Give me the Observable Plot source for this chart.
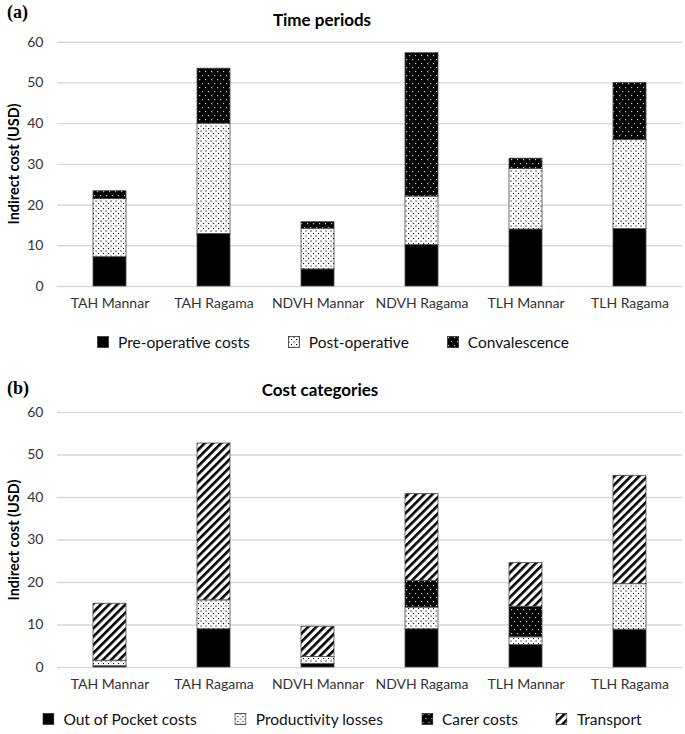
<!DOCTYPE html>
<html>
<head>
<meta charset="utf-8">
<script src="https://cdn.jsdelivr.net/npm/d3@7"></script>
<script src="https://cdn.jsdelivr.net/npm/@observablehq/plot@0.6"></script>
<style>
  html, body { margin: 0; padding: 0; background: #fff; }
  #root { position: relative; width: 685px; height: 734px; font-family: Lato, "Open Sans", sans-serif; color: #000; overflow: hidden; }
  .abs { position: absolute; }
  .panel-label { font-family: "Liberation Serif", "Times New Roman", serif; font-weight: bold; font-size: 18px; }
  .title { font-weight: bold; font-size: 17px; transform: translateX(-50%); white-space: nowrap; }
  .ylab { font-weight: bold; font-size: 14.5px; white-space: nowrap; transform: translate(-50%, -50%) rotate(-90deg); }
  .legend { display: flex; align-items: center; white-space: nowrap; font-size: 15.5px; color: #111; transform: translateX(-50%); }
  .legend .item { display: flex; align-items: center; }
  .legend svg { margin-right: 9px; }
</style>
</head>
<body>
<svg width="0" height="0" style="position:absolute">
  <defs>
    <pattern id="dotsW" width="5" height="5" patternUnits="userSpaceOnUse">
      <rect width="5" height="5" fill="#fff"/>
      <rect x="0.5" y="0.5" width="1.1" height="1.1" fill="#000"/>
      <rect x="3" y="3" width="1.1" height="1.1" fill="#000"/>
    </pattern>
    <pattern id="dotsB" width="6" height="8" patternUnits="userSpaceOnUse">
      <rect width="6" height="8" fill="#000"/>
      <rect x="1" y="1" width="1.2" height="1.2" fill="#c8c8c8"/>
      <rect x="4" y="5" width="1.2" height="1.2" fill="#c8c8c8"/>
    </pattern>
    <pattern id="diag" width="5.8" height="5.8" patternUnits="userSpaceOnUse" patternTransform="rotate(45)">
      <rect width="5.8" height="5.8" fill="#fff"/>
      <rect width="2.6" height="5.8" fill="#000"/>
    </pattern>
  </defs>
</svg>
<div id="root"></div>
<script>
// ---------- data ----------
const categories = ["TAH Mannar", "TAH Ragama", "NDVH Mannar", "NDVH Ragama", "TLH Mannar", "TLH Ragama"];
const yTicks = [0, 10, 20, 30, 40, 50, 60];

// (a) Time periods
const seriesA = ["Pre-operative costs", "Post-operative", "Convalescence"];
const preOperative  = [7.2, 12.9, 4.2, 10.2, 14.0, 14.1];
const postOperative = [14.3, 27.1, 10.0, 11.9, 14.9, 21.9];
const convalescence = [1.9, 13.5, 1.6, 35.2, 2.5, 14.0];

// (b) Cost categories
const seriesB = ["Out of Pocket costs", "Productivity losses", "Carer costs", "Transport"];
const outOfPocket  = [0.3, 9.0, 0.8, 9.0, 5.3, 8.9];
const productivity = [1.3, 6.8, 1.7, 5.1, 1.8, 10.7];
const carerCosts   = [0, 0, 0, 6.3, 7.2, 0];
const transport    = [13.4, 36.9, 7.1, 20.4, 10.3, 25.5];

const fillsA = ["#000", "url(#dotsW)", "url(#dotsB)"];
const fillsB = ["#000", "url(#dotsW)", "url(#dotsB)", "url(#diag)"];

function rows(seriesNames, arrays) {
  const out = [];
  seriesNames.forEach((s, i) => arrays[i].forEach((v, j) => { if (v > 0) out.push({cat: categories[j], series: s, value: v}); }));
  return out;
}

function chart(data, names, fills, height, mt, mb) {
  return Plot.plot({
    width: 685, height, marginTop: mt, marginBottom: mb, marginLeft: 57, marginRight: 3,
    style: {fontFamily: "Lato, 'Open Sans', sans-serif", fontSize: "14px", color: "#333", background: "transparent"},
    x: {domain: categories, paddingInner: 0.68, paddingOuter: 0.34, label: null, tickSize: 0, tickPadding: 12},
    y: {domain: [0, 60], ticks: yTicks, label: null, tickSize: 0, tickPadding: 14},
    color: {domain: names, range: fills},
    marks: [
      Plot.ruleY(yTicks, {stroke: "#d9d9d9", strokeWidth: 1.4}),
      Plot.barY(data, {x: "cat", y: "value", fill: "series", stroke: "#4a4a4a", strokeWidth: 0.8})
    ]
  });
}

function legend(names, fills, gap) {
  const div = document.createElement("div");
  div.className = "legend";
  div.style.gap = gap + "px";
  names.forEach((n, i) => {
    const it = document.createElement("div");
    it.className = "item";
    it.innerHTML = `<svg width="12" height="12"><rect x="0.5" y="0.5" width="11" height="11" fill="${fills[i]}" stroke="#333" stroke-width="0.8"/></svg><span>${n}</span>`;
    div.appendChild(it);
  });
  return div;
}

const root = document.getElementById("root");
function place(el, left, top) { el.classList.add("abs"); el.style.left = left + "px"; el.style.top = top + "px"; root.appendChild(el); return el; }
function textEl(cls, txt) { const d = document.createElement("div"); d.className = cls; d.textContent = txt; return d; }

// Panel (a)
place(textEl("panel-label", "(a)"), 7, 2);
place(textEl("title", "Time periods"), 322, 9);
place(textEl("ylab", "Indirect cost (USD)"), 13, 164);
const svgA = chart(rows(seriesA, [preOperative, postOperative, convalescence]), seriesA, fillsA, 290, 11.7, 34);
place(svgA, 0, 30);
place(legend(seriesA, fillsA, 38), 333, 333);

// Panel (b)
place(textEl("panel-label", "(b)"), 7, 378);
place(textEl("title", "Cost categories"), 320, 379);
place(textEl("ylab", "Indirect cost (USD)"), 13, 540);
const svgB = chart(rows(seriesB, [outOfPocket, productivity, carerCosts, transport]), seriesB, fillsB, 300, 12, 33);
place(svgB, 0, 400);
place(legend(seriesB, fillsB, 38), 342, 710);
</script>
</body>
</html>
